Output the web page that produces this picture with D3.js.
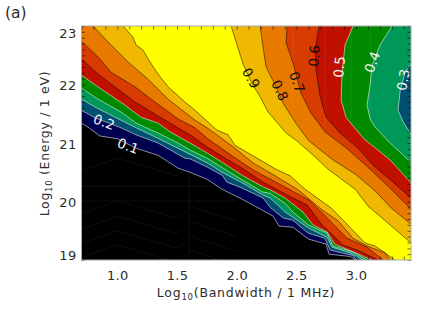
<!DOCTYPE html>
<html>
<head>
<meta charset="utf-8">
<script src="https://cdn.jsdelivr.net/npm/d3@7"></script>
<style>
  html, body { margin: 0; padding: 0; background: #fff; }
  text { font-family: "DejaVu Sans", sans-serif; fill: #2c2c2c; }
</style>
</head>
<body>
<div id="chart"></div>
<script>
// contour levels, one colour per band, [log10 bandwidth, log10 energy]
var levels = [0.1, 0.2, 0.3, 0.4, 0.5, 0.6, 0.7, 0.8, 0.9];
var bandColors = ["#000050", "#005070", "#009858", "#008a00", "#c01000", "#d83c00", "#e87a00", "#f0b800", "#ffff00"];

// lower branch of each level, left/top edge to bottom edge
var low01 = [[0.70,21.34],[0.755,21.27],[0.855,21.12],[1.006,21.07],[1.157,20.91],[1.341,20.79],[1.509,20.57],[1.609,20.50],[1.752,20.38],[1.886,20.20],[2.045,20.04],[2.154,19.92],[2.305,19.75],[2.355,19.58],[2.472,19.56],[2.598,19.36],[2.749,19.27],[2.774,19.10],[2.95,19.06],[3.0,19]];
var low02 = [[0.70,21.56],[0.813,21.43],[1.031,21.26],[1.157,21.14],[1.341,21.0],[1.567,20.74],[1.609,20.73],[1.752,20.59],[1.878,20.45],[1.919,20.33],[2.045,20.23],[2.221,20.06],[2.28,19.90],[2.389,19.72],[2.472,19.68],[2.598,19.46],[2.74,19.37],[2.782,19.17],[2.967,19.08],[3.009,19]];
var low03 = [[0.70,21.75],[0.813,21.615],[1.031,21.39],[1.157,21.26],[1.341,21.08],[1.567,20.85],[1.752,20.66],[1.886,20.49],[2.045,20.32],[2.221,20.11],[2.28,20.06],[2.405,19.82],[2.472,19.73],[2.598,19.55],[2.757,19.39],[2.799,19.22],[2.95,19.12],[3.059,19]];
var low04 = [[0.70,21.94],[0.838,21.75],[1.031,21.53],[1.157,21.34],[1.341,21.17],[1.509,21.0],[1.609,20.88],[1.752,20.74],[1.886,20.57],[2.045,20.37],[2.221,20.16],[2.28,20.14],[2.405,19.97],[2.472,19.82],[2.598,19.60],[2.757,19.46],[2.807,19.24],[2.967,19.14],[3.092,19]];
var low05 = [[0.70,22.16],[0.838,21.96],[1.048,21.67],[1.2,21.44],[1.341,21.34],[1.442,21.19],[1.609,21.0],[1.752,20.83],[1.886,20.66],[2.045,20.45],[2.221,20.25],[2.28,20.20],[2.405,20.06],[2.556,19.82],[2.64,19.60],[2.757,19.48],[2.824,19.27],[2.975,19.14],[3.134,19]];
var low06 = [[0.70,22.435],[0.838,22.18],[0.947,22.01],[1.148,21.70],[1.40,21.39],[1.609,21.14],[1.752,20.93],[1.886,20.76],[2.045,20.57],[2.221,20.33],[2.422,20.11],[2.59,19.94],[2.715,19.60],[2.824,19.39],[2.883,19.26],[3.009,19.17],[3.185,19]];
var low07 = [[0.70,22.74],[0.855,22.435],[0.947,22.21],[1.148,21.96],[1.316,21.70],[1.509,21.41],[1.651,21.26],[1.752,21.08],[1.961,20.78],[2.137,20.54],[2.338,20.32],[2.447,20.20],[2.615,20.01],[2.757,19.72],[2.925,19.37],[3.092,19.22],[3.226,19]];
var low08 = [[0.796,23],[0.947,22.675],[1.09,22.385],[1.257,22.09],[1.425,21.75],[1.651,21.39],[1.752,21.26],[1.961,20.95],[2.137,20.66],[2.338,20.42],[2.514,20.20],[2.707,19.87],[2.849,19.67],[2.975,19.37],[3.092,19.24],[3.243,19.12],[3.285,19]];
var low09 = [[1.048,23],[1.131,22.81],[1.157,22.675],[1.215,22.59],[1.274,22.385],[1.341,22.18],[1.425,21.96],[1.567,21.70],[1.651,21.56],[1.835,21.22],[1.928,21.14],[1.986,20.96],[2.137,20.78],[2.33,20.55],[2.447,20.44],[2.573,20.21],[2.791,19.89],[2.916,19.63],[3.076,19.29],[3.16,19.24],[3.327,19]];

// upper branch of each level, top edge to right edge
var up03 = [[3.46,22.35],[3.411,22.21],[3.369,21.89],[3.352,21.56],[3.394,21.36],[3.46,21.15]];
var up04 = [[3.302,23],[3.201,22.675],[3.134,22.33],[3.118,22.0],[3.092,21.65],[3.118,21.41],[3.16,21.27],[3.285,21.0],[3.46,20.67]];
var up05 = [[2.975,23],[2.908,22.675],[2.883,22.21],[2.875,21.73],[2.916,21.44],[2.967,21.31],[3.076,21.05],[3.134,20.96],[3.285,20.71],[3.46,20.32]];
var up06 = [[2.69,23],[2.657,22.59],[2.665,22.25],[2.699,21.79],[2.749,21.44],[2.866,21.17],[3.017,20.91],[3.143,20.62],[3.31,20.33],[3.46,20.06]];
var up07 = [[2.422,23],[2.414,22.71],[2.472,22.367],[2.539,21.85],[2.623,21.51],[2.74,21.19],[2.908,20.93],[2.992,20.78],[3.118,20.55],[3.294,20.21],[3.46,19.87]];
var up08 = [[2.196,23],[2.221,22.64],[2.246,22.30],[2.33,21.96],[2.389,21.68],[2.489,21.36],[2.598,21.05],[2.682,20.91],[2.807,20.71],[2.992,20.47],[3.16,20.18],[3.294,19.89],[3.46,19.61]];
var up09 = [[1.953,23],[2.003,22.675],[2.053,22.35],[2.129,22.01],[2.196,21.79],[2.263,21.53],[2.414,21.17],[2.514,21.02],[2.657,20.76],[2.766,20.55],[2.992,20.21],[3.101,19.92],[3.268,19.63],[3.46,19.29]];

var lowBranches = [low01, low02, low03, low04, low05, low06, low07, low08, low09];
var upBranches = [null, null, up03, up04, up05, up06, up07, up08, up09];

var xTickValues = [1.0, 1.5, 2.0, 2.5, 3.0];
var yTickValues = [19, 20, 21, 22, 23];

var labelText = ["0.1", "0.2", "0.3", "0.4", "0.5", "0.6", "0.7", "0.8", "0.9"];
var labelX = [1.09, 0.889, 3.394, 3.134, 2.858, 2.648, 2.506, 2.363, 2.12];
var labelY = [20.95, 21.36, 22.08, 22.385, 22.30, 22.49, 22.04, 21.90, 22.11];
var labelAngle = [20, 20, -80, -70, -85, -85, 70, 65, 60];

// faint mesh showing through the black corner and the coloured bands
var meshPeaks = [20.74, 20.01, 19.75, 19.50, 19.26];
var meshV = [1.6];
var meshH = [20.26, 20.01];
var meshLight = [2.472, 2.74, 2.958, 3.118];

var svgWidth = 436;
var svgHeight = 312;
var plot = { left: 81.5, right: 411, top: 26, bottom: 260 };
var xMin = 0.7, xMax = 3.46, yMin = 19, yMax = 23;

var x = d3.scaleLinear().domain([xMin, xMax]).range([plot.left, plot.right]);
var y = d3.scaleLinear().domain([yMin, yMax]).range([plot.bottom, plot.top]);

var svg = d3.select("#chart").append("svg")
    .attr("width", svgWidth)
    .attr("height", svgHeight)
    .style("display", "block");

svg.append("clipPath").attr("id", "plot-clip").append("rect")
    .attr("x", plot.left).attr("y", plot.top)
    .attr("width", plot.right - plot.left).attr("height", plot.bottom - plot.top);

var line = d3.line().x(d => x(d[0])).y(d => y(d[1]));

var field = svg.append("g").attr("clip-path", "url(#plot-clip)");

field.append("rect")
    .attr("x", plot.left).attr("y", plot.top)
    .attr("width", plot.right - plot.left).attr("height", plot.bottom - plot.top)
    .attr("fill", "#000");

meshPeaks.forEach(function (p) {
    field.append("path")
        .attr("d", line([[xMin, p - 0.22], [1.0, p], [1.5, p - 0.3], [1.62, p - 0.1], [2.0, p - 0.35]]))
        .attr("fill", "none").attr("stroke", "#0f0f0f").attr("stroke-width", 1);
});
meshV.forEach(function (v) {
    field.append("path").attr("d", line([[v, yMin], [v, 21]]))
        .attr("stroke", "#111").attr("fill", "none");
});
meshH.forEach(function (h) {
    field.append("path").attr("d", line([[xMin, h], [2, h]]))
        .attr("stroke", "#0f0f0f").attr("fill", "none");
});

// nested regions z >= level, painted low to high
levels.forEach(function (level, i) {
    var low = lowBranches[i];
    var up = upBranches[i];
    var pts = low.slice();
    pts.push([xMax, yMin]);
    if (up) {
        pts = pts.concat(up.slice().reverse());
    }
    if (!up || up[0][1] < yMax) {
        pts.push([xMax, yMax]);
    }
    if (low[0][0] == xMin) {
        pts.push([xMin, yMax]);
    }
    field.append("path")
        .attr("d", line(pts) + "Z")
        .attr("fill", bandColors[i]);
});

meshLight.forEach(function (v) {
    field.append("path").attr("d", line([[v, 21.2], [v, yMax]]))
        .attr("stroke", "#fff").attr("stroke-opacity", 0.07).attr("fill", "none");
});

// contour lines on top of the fills
levels.forEach(function (level, i) {
    var stroke = level <= 0.5 ? "#fff" : "#000";
    var opacity = level <= 0.5 ? 0.6 : 0.55;
    [lowBranches[i], upBranches[i]].forEach(function (branch) {
        if (!branch) return;
        field.append("path")
            .attr("d", line(branch))
            .attr("fill", "none")
            .attr("stroke", stroke)
            .attr("stroke-opacity", opacity)
            .attr("stroke-width", 0.9);
    });
});

// contour labels
labelText.forEach(function (t, i) {
    svg.append("text")
        .attr("transform", `translate(${x(labelX[i])}, ${y(labelY[i])}) rotate(${labelAngle[i]})`)
        .attr("text-anchor", "middle")
        .attr("dy", "0.36em")
        .attr("font-size", "13.5px")
        .style("fill", i < 5 ? "#f4f4f4" : "#111")
        .text(t);
});

// inward ticks on all four sides
function minorTicks(from, to) {
    return d3.range(Math.round(from * 10), Math.round(to * 10) + 1).map(d => d / 10);
}
var xMinor = minorTicks(0.7, 3.4);
var yMinor = minorTicks(19, 23);

function styleTicks(g) {
    g.select(".domain").remove();
    g.selectAll("line").attr("stroke", "#000").attr("stroke-opacity", 0.7).attr("stroke-width", 0.8);
}
svg.append("g").attr("transform", `translate(0, ${plot.top})`)
    .call(d3.axisBottom(x).tickValues(xMinor).tickSize(3.5).tickFormat("")).call(styleTicks);
svg.append("g").attr("transform", `translate(0, ${plot.bottom})`)
    .call(d3.axisTop(x).tickValues(xMinor).tickSize(3.5).tickFormat("")).call(styleTicks);
svg.append("g").attr("transform", `translate(${plot.left}, 0)`)
    .call(d3.axisRight(y).tickValues(yMinor).tickSize(3.5).tickFormat("")).call(styleTicks);
svg.append("g").attr("transform", `translate(${plot.right}, 0)`)
    .call(d3.axisLeft(y).tickValues(yMinor).tickSize(3.5).tickFormat("")).call(styleTicks);

svg.append("rect")
    .attr("x", plot.left).attr("y", plot.top)
    .attr("width", plot.right - plot.left).attr("height", plot.bottom - plot.top)
    .attr("fill", "none").attr("stroke", "#aaa").attr("stroke-width", 1);

// tick labels
var xAxis = svg.append("g").attr("transform", `translate(0, ${plot.bottom})`)
    .call(d3.axisBottom(x).tickValues(xTickValues).tickSize(0).tickPadding(0).tickFormat(d3.format(".1f")));
xAxis.select(".domain").remove();
xAxis.selectAll("text").attr("font-size", "13px").attr("y", 11).attr("dy", "0.71em")
    .style("font-family", "'DejaVu Sans', sans-serif").style("fill", "#2c2c2c").style("letter-spacing", "0.3px");

var yAxis = svg.append("g").attr("transform", `translate(${plot.left}, 0)`)
    .call(d3.axisLeft(y).tickValues(yTickValues).tickSize(0).tickPadding(5).tickFormat(d3.format("d")));
yAxis.select(".domain").remove();
yAxis.selectAll("text").attr("font-size", "13px")
    .attr("dy", d => d == 23 ? "0.85em" : d == 19 ? "-0.05em" : "0.42em")
    .style("font-family", "'DejaVu Sans', sans-serif").style("fill", "#2c2c2c").style("letter-spacing", "0.3px");

// titles
var xTitle = svg.append("text")
    .attr("x", 246).attr("y", 297)
    .attr("text-anchor", "middle")
    .attr("font-size", "12.5px")
    .style("letter-spacing", "0.75px");
xTitle.append("tspan").text("Log");
xTitle.append("tspan").attr("dy", 3).attr("font-size", "8.5px").text("10");
xTitle.append("tspan").attr("dy", -3).text("(Bandwidth / 1 MHz)");

var yTitle = svg.append("text")
    .attr("transform", "translate(49, 143.5) rotate(-90)")
    .attr("text-anchor", "middle")
    .attr("font-size", "12.5px")
    .style("letter-spacing", "0.7px");
yTitle.append("tspan").text("Log");
yTitle.append("tspan").attr("dy", 3).attr("font-size", "8.5px").text("10");
yTitle.append("tspan").attr("dy", -3).text(" (Energy / 1 eV)");

svg.append("text")
    .attr("x", 5).attr("y", 18)
    .attr("font-size", "15.5px")
    .text("(a)");
</script>
</body>
</html>
